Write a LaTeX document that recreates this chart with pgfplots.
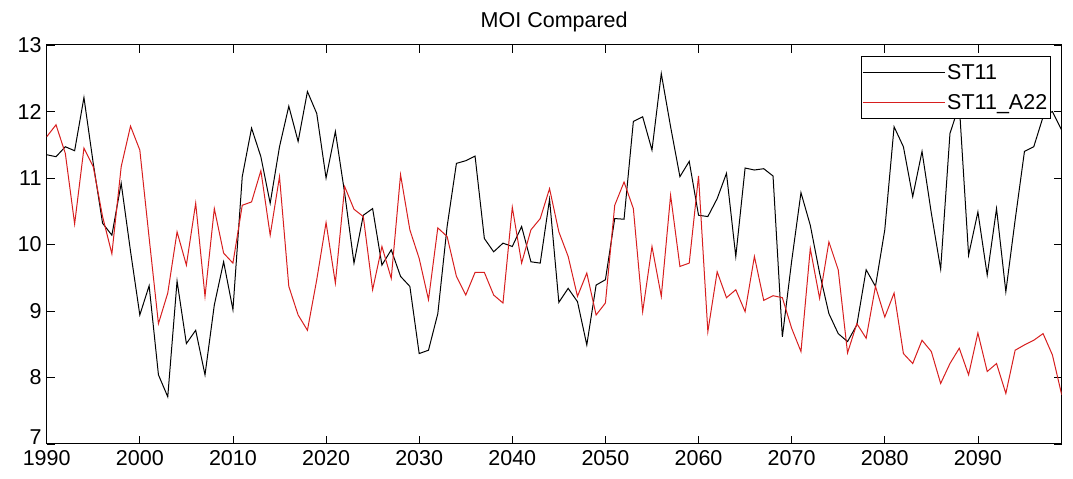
\documentclass[border=0pt]{standalone}
\usepackage{pgfplots}
\pgfplotsset{compat=1.18}
\usepackage{fontspec}
\setmainfont{Liberation Sans}
\definecolor{mred}{RGB}{215,30,30}
\begin{document}
\begin{tikzpicture}
\begin{axis}[
  scale only axis,
  width=1015pt, height=399pt,
  xmin=1990, xmax=2099, ymin=7, ymax=13,
  xtick={1990,2000,...,2090}, ytick={7,...,13},
  yticklabels={\smash{\raisebox{-1pt}{7}},8,9,10,11,12,13},
  xticklabel style={/pgf/number format/1000 sep={}, inner sep=2pt, yshift=-4pt},
  /pgf/number format/assume math mode=true,
  tick label style={font=\fontsize{21.5}{23}\selectfont},
  yticklabel style={inner sep=2pt, xshift=-3pt},
  tick align=inside, major tick length=8pt,
  xtick pos=both, ytick pos=both,
  axis line style={line width=1pt},
  every tick/.style={black, line width=0.8pt},
  title={MOI Compared},
  title style={font=\fontsize{21.5}{23}\selectfont, at={(0.5,1)}, anchor=base, yshift=11pt},
  legend style={at={(1,1)}, anchor=north east, xshift=-11pt, yshift=-11pt,
    draw=black, line width=1pt, font=\fontsize{21.5}{23}\selectfont,
    inner xsep=1pt, inner ysep=6pt, row sep=9pt, cells={anchor=west},
    /tikz/every even column/.append style={column sep=6pt}},
  legend image code/.code={\path (-13pt,0pt) -- (69pt,0pt); \draw[#1, line width=1pt] (0pt,0pt) -- (69pt,0pt);},
  legend cell align=left,
]
\addplot[black, line width=1pt] coordinates {
(1990,11.35)(1991,11.32)(1992,11.47)(1993,11.41)(1994,12.21)(1995,11.22)(1996,10.32)(1997,10.14)(1998,10.92)(1999,9.90)
(2000,8.94)(2001,9.38)(2002,8.04)(2003,7.71)(2004,9.45)(2005,8.51)(2006,8.71)(2007,8.04)(2008,9.09)(2009,9.74)
(2010,9.02)(2011,11.02)(2012,11.75)(2013,11.32)(2014,10.62)(2015,11.47)(2016,12.08)(2017,11.55)(2018,12.30)(2019,11.97)
(2020,11.00)(2021,11.70)(2022,10.77)(2023,9.72)(2024,10.44)(2025,10.54)(2026,9.69)(2027,9.92)(2028,9.52)(2029,9.37)
(2030,8.36)(2031,8.41)(2032,8.96)(2033,10.27)(2034,11.22)(2035,11.26)(2036,11.33)(2037,10.09)(2038,9.89)(2039,10.02)
(2040,9.97)(2041,10.27)(2042,9.74)(2043,9.72)(2044,10.68)(2045,9.13)(2046,9.34)(2047,9.14)(2048,8.49)(2049,9.39)
(2050,9.47)(2051,10.39)(2052,10.38)(2053,11.85)(2054,11.92)(2055,11.42)(2056,12.57)(2057,11.77)(2058,11.02)(2059,11.25)
(2060,10.44)(2061,10.42)(2062,10.69)(2063,11.07)(2064,9.82)(2065,11.15)(2066,11.12)(2067,11.14)(2068,11.03)(2069,8.61)
(2070,9.75)(2071,10.78)(2072,10.29)(2073,9.57)(2074,8.96)(2075,8.66)(2076,8.54)(2077,8.79)(2078,9.62)(2079,9.37)
(2080,10.22)(2081,11.77)(2082,11.47)(2083,10.72)(2084,11.40)(2085,10.47)(2086,9.63)(2087,11.67)(2088,12.10)(2089,9.84)
(2090,10.49)(2091,9.54)(2092,10.54)(2093,9.29)(2094,10.37)(2095,11.40)(2096,11.47)(2097,11.92)(2098,12.00)(2099,11.72)
};
\addlegendentry{ST11}
\addplot[mred, line width=1pt] coordinates {
(1990,11.62)(1991,11.80)(1992,11.37)(1993,10.31)(1994,11.45)(1995,11.17)(1996,10.42)(1997,9.86)(1998,11.17)(1999,11.78)
(2000,11.42)(2001,10.10)(2002,8.81)(2003,9.27)(2004,10.19)(2005,9.69)(2006,10.62)(2007,9.22)(2008,10.54)(2009,9.87)
(2010,9.72)(2011,10.59)(2012,10.64)(2013,11.11)(2014,10.14)(2015,11.02)(2016,9.37)(2017,8.94)(2018,8.71)(2019,9.47)
(2020,10.33)(2021,9.42)(2022,10.87)(2023,10.53)(2024,10.42)(2025,9.32)(2026,9.97)(2027,9.49)(2028,11.05)(2029,10.22)
(2030,9.79)(2031,9.17)(2032,10.25)(2033,10.12)(2034,9.52)(2035,9.24)(2036,9.58)(2037,9.58)(2038,9.24)(2039,9.12)
(2040,10.56)(2041,9.72)(2042,10.22)(2043,10.39)(2044,10.84)(2045,10.19)(2046,9.82)(2047,9.22)(2048,9.57)(2049,8.94)
(2050,9.12)(2051,10.59)(2052,10.94)(2053,10.54)(2054,8.99)(2055,9.97)(2056,9.22)(2057,10.74)(2058,9.67)(2059,9.72)
(2060,11.03)(2061,8.69)(2062,9.59)(2063,9.20)(2064,9.32)(2065,8.99)(2066,9.82)(2067,9.16)(2068,9.23)(2069,9.20)
(2070,8.74)(2071,8.39)(2072,9.94)(2073,9.19)(2074,10.04)(2075,9.62)(2076,8.37)(2077,8.81)(2078,8.59)(2079,9.37)
(2080,8.91)(2081,9.27)(2082,8.36)(2083,8.21)(2084,8.56)(2085,8.39)(2086,7.91)(2087,8.21)(2088,8.44)(2089,8.04)
(2090,8.67)(2091,8.09)(2092,8.21)(2093,7.76)(2094,8.41)(2095,8.49)(2096,8.56)(2097,8.66)(2098,8.34)(2099,7.74)
};
\addlegendentry{ST11\_A22}
\end{axis}
\path ([xshift=-46.7pt,yshift=-35pt]current axis.south west) rectangle ([xshift=11.3pt,yshift=45pt]current axis.north east);
\end{tikzpicture}
\end{document}
